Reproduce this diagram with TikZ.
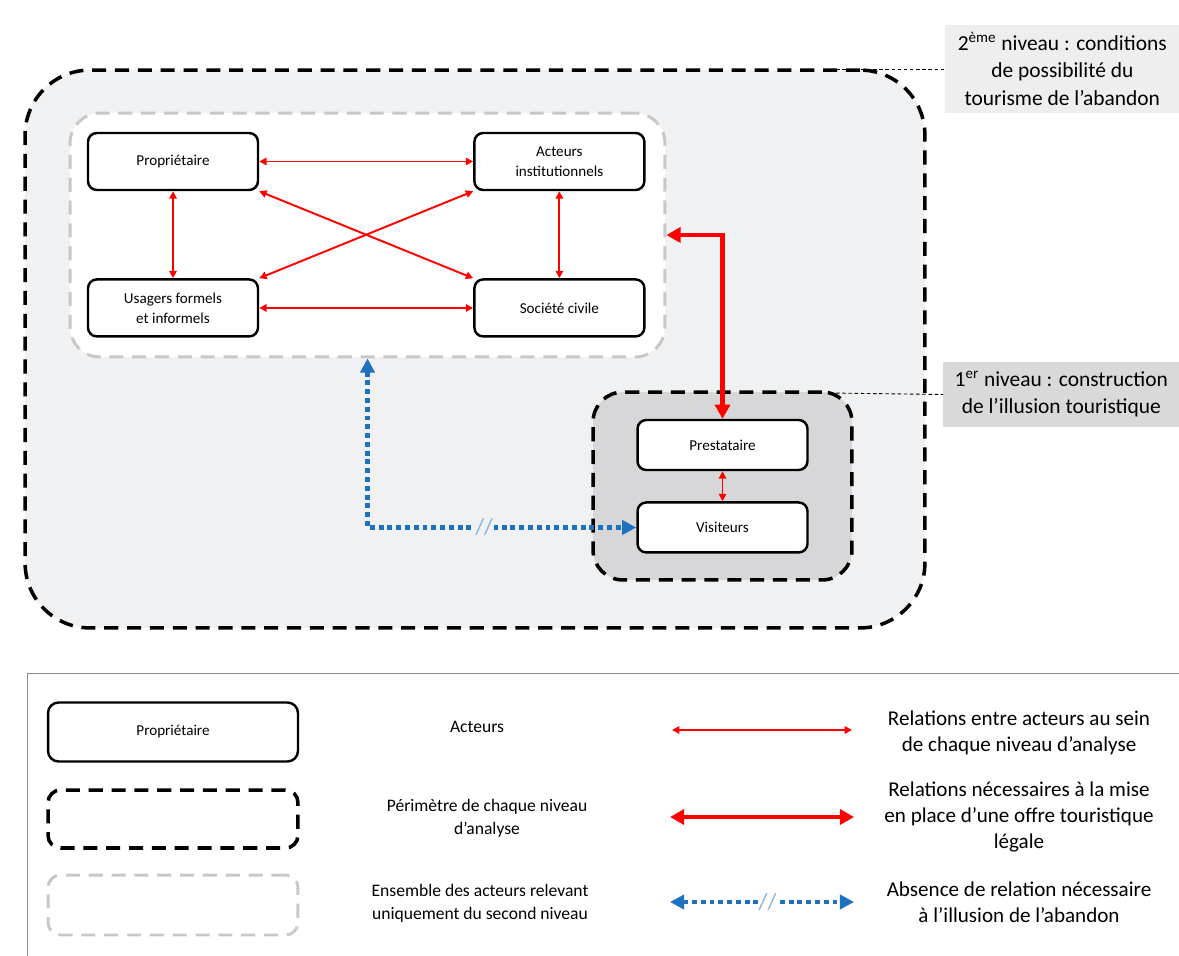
\documentclass[tikz,border=0pt]{standalone}
\usepackage{fontspec}
\setmainfont{Carlito}
\usetikzlibrary{positioning, arrows.meta, calc}
\definecolor{fondNiveauDeux}{RGB}{240,241,243}
\definecolor{fondNiveauUn}{RGB}{215,215,217}
\definecolor{grisGroupe}{RGB}{200,200,200}
\definecolor{rougeRel}{RGB}{255,0,0}
\definecolor{bleuRel}{RGB}{30,112,192}
\definecolor{fondEtiqDeux}{RGB}{238,238,238}
\definecolor{fondEtiqUn}{RGB}{217,217,217}
\tikzset{
	acteur/.style={
		draw,
		line width=1.4pt,
		rounded corners=5pt,
		fill=white,
		minimum width=3.4cm,
		minimum height=1.14cm,
		align=center,
		font=\fontsize{8.6}{11.5}\selectfont,
	},
	perimetre/.style={
		draw,
		line width=2pt,
		dash pattern=on 8pt off 5pt,
	},
	groupe/.style={
		draw=grisGroupe,
		line width=1.7pt,
		dash pattern=on 8pt off 5pt,
	},
	relation/.style={
		{Triangle[length=4.2pt,width=4.2pt]}-{Triangle[length=4.2pt,width=4.2pt]},
		line width=1.1pt,
		draw=rougeRel,
	},
	relForte/.style={
		{Triangle[length=8pt,width=8.5pt]}-{Triangle[length=8pt,width=8.5pt]},
		line width=2.8pt,
		draw=rougeRel,
	},
	absence/.style={
		{Triangle[length=8pt,width=8pt]}-{Triangle[length=8pt,width=8pt]},
		line width=2.8pt,
		dash pattern=on 2.8pt off 2.2pt,
		draw=bleuRel,
	},
	coupure/.style={inner sep=0.6pt, text=bleuRel!55, font=\fontsize{13}{13}\selectfont},
	etiquette/.style={align=center, font=\fontsize{12.2}{15.5}\selectfont, anchor=west},
	legende/.style={align=center, font=\fontsize{12}{15}\selectfont},
	repere/.style={draw, line width=0.5pt, dash pattern=on 2pt off 1.5pt},
}

\begin{document}
\begin{tikzpicture}[x=0.02cm, y=-0.02cm]
	\useasboundingbox (0,0) rectangle (1179,956);
	
	% --- Perimeters ---
	\node[perimetre, fill=fondNiveauDeux, rounded corners=1.3cm, minimum width=18cm, minimum height=11.16cm] (niveauDeux) at (475,349) {};
	\node[groupe, fill=white, rounded corners=0.6cm, minimum width=11.9cm, minimum height=4.88cm] (groupe) at (367.5,235) {};
	\node[perimetre, fill=fondNiveauUn, rounded corners=0.6cm, minimum width=5.18cm, minimum height=3.76cm] (niveauUn) at (722.5,486) {};
	
	% --- Second level actors ---
	\node[acteur] (proprio) at (173,161.5) {Propriétaire};
	\node[acteur] (institut) [right=4.28cm of proprio] {Acteurs\\institutionnels};
	\node[acteur] (usagers) [below=1.74cm of proprio] {Usagers formels\\et informels};
	\node[acteur] (societe) [below=1.74cm of institut] {Société civile};
	
	% --- First level actors ---
	\node[acteur, minimum height=1cm] (prestataire) at (722.5,445) {Prestataire};
	\node[acteur, minimum height=1cm] (visiteurs) [below=0.6cm of prestataire] {Visiteurs};
	
	% --- Relations ---
	\draw[relation] (proprio) -- (institut);
	\draw[relation] (usagers) -- (societe);
	\draw[relation] (proprio) -- (usagers);
	\draw[relation] (institut) -- (societe);
	\draw[relation] (proprio.south east) -- (societe.north west);
	\draw[relation] (institut.south west) -- (usagers.north east);
	\draw[relation] (prestataire) -- (visiteurs);
	\draw[relForte] (groupe.east) -| (prestataire.north);
	\draw[absence] (groupe.south) |- node[coupure, fill=fondNiveauDeux, pos=0.717] {//} (visiteurs.west);
	
	% --- Level labels ---
	\node[etiquette, fill=fondEtiqDeux, minimum width=4.68cm, minimum height=1.76cm] (etiqDeux) at (945,69) {2\textsuperscript{ème} niveau : conditions\\de possibilité du\\tourisme de l’abandon};
	\node[etiquette, fill=fondEtiqUn, minimum width=4.72cm, minimum height=1.3cm] (etiqUn) at (943,394.5) {1\textsuperscript{er} niveau : construction\\de l’illusion touristique};
	\coordinate (ancreDeux) at (830,69);
	\coordinate (ancreUn) at (830,393);
	\draw[repere] (ancreDeux) -- (etiqDeux.west);
	\draw[repere] (ancreUn) -- (etiqUn.west);
	
	% --- Legend ---
	\draw[draw=black!45, line width=0.5pt] (27,960) |- (1183,673);
	\node[acteur, rounded corners=6pt, minimum width=5cm, minimum height=1.18cm] (legActeur) at (173,732) {Propriétaire};
	\node[perimetre, rounded corners=0.25cm, minimum width=5cm, minimum height=1.16cm] (legPerim) at (173,819) {};
	\node[groupe, rounded corners=0.25cm, minimum width=5cm, minimum height=1.2cm] (legGroupe) at (173,905) {};
	\node[font=\fontsize{10}{13}\selectfont] (txtActeur) at (477,727) {Acteurs};
	\node[font=\fontsize{10}{13}\selectfont, align=center] (txtPerim) at (487,818) {Périmètre de chaque niveau\\d’analyse};
	\node[font=\fontsize{10}{13}\selectfont, align=center] (txtGroupe) at (480,903) {Ensemble des acteurs relevant\\uniquement du second niveau};
	
	\coordinate (legRelA) at (672,730);
	\coordinate (legRelB) at (852,730);
	\coordinate (legForteA) at (670,817);
	\coordinate (legForteB) at (854,817);
	\coordinate (legAbsA) at (670,902);
	\coordinate (legAbsB) at (854,902);
	\draw[relation] (legRelA) -- (legRelB);
	\draw[relForte] (legForteA) -- (legForteB);
	\draw[absence] (legAbsA) -- node[coupure, fill=white, pos=0.53] {//} (legAbsB);
	\node[legende] (txtRel) at (1019,733) {Relations entre acteurs au sein\\de chaque niveau d’analyse};
	\node[legende] (txtForte) at (1019,817) {Relations nécessaires à la mise\\en place d’une offre touristique\\légale};
	\node[legende] (txtAbs) at (1019,902) {Absence de relation nécessaire\\à l’illusion de l’abandon};
\end{tikzpicture}
\end{document}
